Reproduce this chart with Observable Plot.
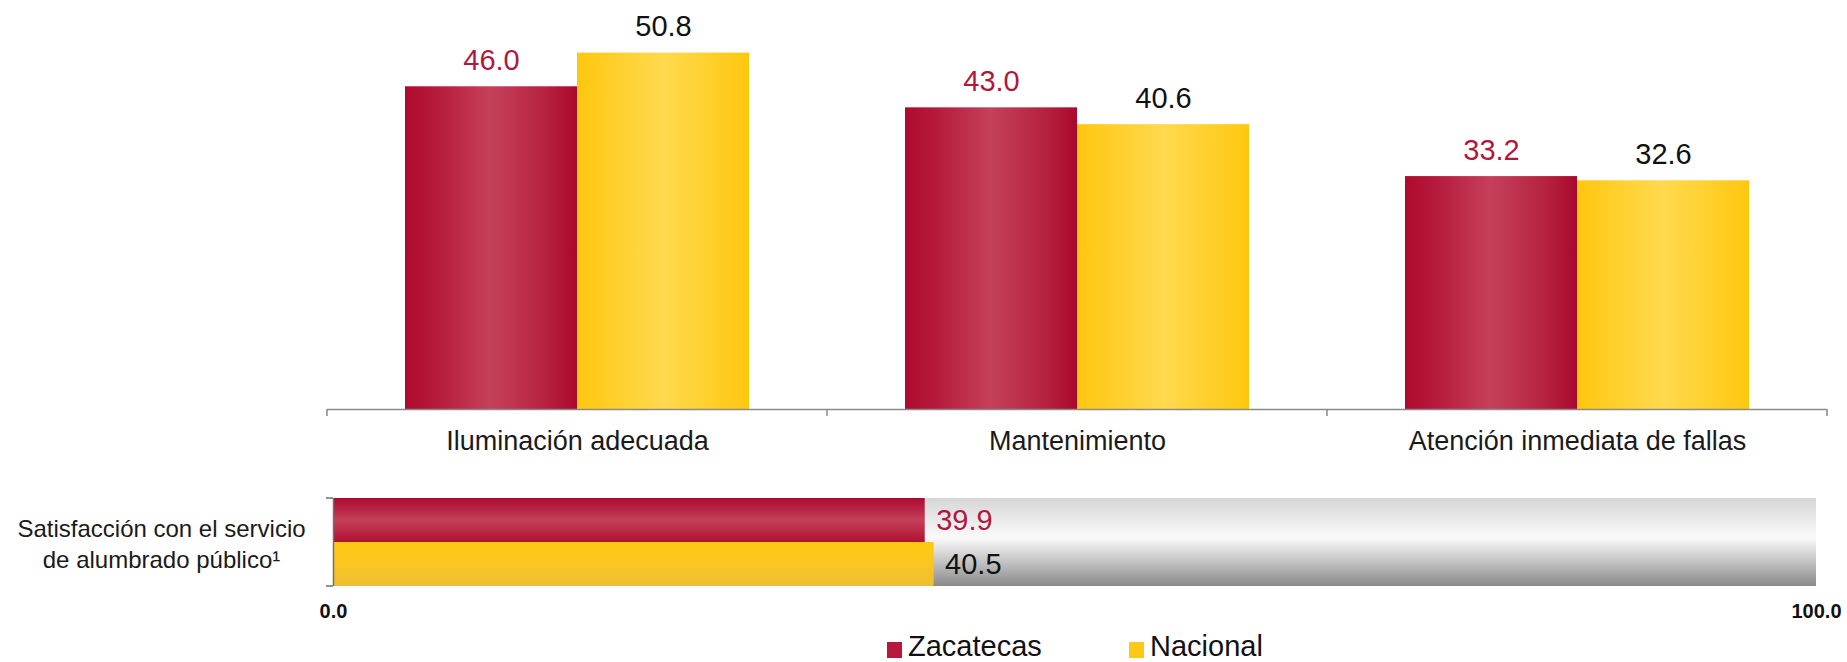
<!DOCTYPE html>
<html><head><meta charset="utf-8">
<script src="https://cdn.jsdelivr.net/npm/d3@7"></script>
<script src="https://cdn.jsdelivr.net/npm/@observablehq/plot@0.6"></script>
<style>
body{margin:0;background:#fff;font-family:"Liberation Sans",Arial,sans-serif;}
#wrap{position:relative;width:1847px;height:662px;overflow:hidden;background:#fff;}
#top{position:absolute;left:0;top:0;}
#bottom{position:absolute;left:0;top:470px;}
.leg{position:absolute;top:633px;font-size:29px;line-height:27px;color:#111;white-space:nowrap;}
.sw{position:absolute;top:642px;width:15px;height:16px;}
</style></head><body>
<div id="wrap"><div id="top"></div><div id="bottom"></div><div id="legend"></div></div>
<script>
// ---- data ----
const categories = ["Iluminación adecuada", "Mantenimiento", "Atención inmediata de fallas"];
const series = ["Zacatecas", "Nacional"];
const zacatecas = [46.0, 43.0, 33.2];
const nacional = [50.8, 40.6, 32.6];
const satisfLabel = "Satisfacción con el servicio\nde alumbrado público¹";
const satisfaccion = [39.9, 40.5]; // Zacatecas, Nacional
const axisTicks = [0, 100];

// ---- styles ----
const legendColors = ["#B8163E", "#FFC815"];
const labelColors = {Zacatecas: "#B0183D", Nacional: "#111111"};
const FONT = "Liberation Sans, Arial, sans-serif";

const rows = categories.flatMap((c, i) => [
  {cat: c, serie: series[0], v: zacatecas[i]},
  {cat: c, serie: series[1], v: nacional[i]}
]);
const bottomRows = series.map((s, i) => ({serie: s, v: satisfaccion[i]}));

// ---- top chart ----
const chart1 = Plot.plot({
  width: 1847, height: 470,
  marginTop: 0, marginBottom: 61, marginLeft: 326, marginRight: 20,
  style: {fontFamily: FONT, background: "transparent"},
  fx: {domain: categories, padding: 0, label: null},
  x: {domain: series, paddingInner: 0, paddingOuter: 0.453, axis: null},
  y: {domain: [0, 58.3], axis: null},
  color: {domain: series, range: ["url(#gZv)", "url(#gNv)"]},
  marks: [
    Plot.barY(rows, {fx: "cat", x: "serie", y: "v", fill: "serie"}),
    Plot.ruleY([0], {stroke: "#8a8a8a", strokeWidth: 1.5}),
    ...series.map(s => Plot.text(rows, {
      filter: d => d.serie === s, fx: "cat", x: "serie", y: "v",
      text: d => d.v.toFixed(1), dy: -17, lineAnchor: "bottom",
      fontSize: 29, fill: labelColors[s]
    })),
    Plot.axisFx({anchor: "bottom", tickSize: 0, tickPadding: 21, fontSize: 27, fill: "#1a1a1a", label: null})
  ]
});
document.getElementById("top").append(chart1);

// ---- bottom chart ----
const chart2 = Plot.plot({
  width: 1847, height: 160,
  marginTop: 28, marginBottom: 44, marginLeft: 333, marginRight: 31,
  style: {fontFamily: FONT, background: "transparent"},
  x: {domain: [0, 100]},
  y: {domain: series, padding: 0, axis: null},
  color: {domain: series, range: ["url(#gZh)", "url(#gNh)"]},
  marks: [
    Plot.barX([axisTicks[1]], {x: d => d, fill: "url(#gGray)"}),
    Plot.barX(bottomRows, {x: "v", y: "serie", fill: "serie"}),
    Plot.ruleX([0], {stroke: "#707070", strokeWidth: 1.5}),
    ...series.map(s => Plot.text(bottomRows, {
      filter: d => d.serie === s, x: "v", y: "serie",
      text: d => d.v.toFixed(1), dx: 11, textAnchor: "start",
      fontSize: 29, fill: labelColors[s]
    })),
    Plot.axisX({ticks: axisTicks, tickFormat: d => d.toFixed(1), tickSize: 0, tickPadding: 17,
      fontSize: 20, fontWeight: "bold", fill: "#111", label: null}),
    Plot.text([satisfLabel], {frameAnchor: "left", dx: -172, textAnchor: "middle",
      fontSize: 24, lineHeight: 1.3, fill: "#1a1a1a"})
  ]
});
document.getElementById("bottom").append(chart2);

// ---- gradients ----
function addGrad(svg, id, vertical, stops) {
  let defs = svg.select("defs");
  if (defs.empty()) defs = svg.insert("defs", ":first-child");
  const g = defs.append("linearGradient").attr("id", id)
    .attr("x1", 0).attr("y1", 0).attr("x2", vertical ? 0 : 1).attr("y2", vertical ? 1 : 0);
  stops.forEach(([o, c]) => g.append("stop").attr("offset", o).attr("stop-color", c));
}
const s1 = d3.select(chart1);
addGrad(s1, "gZv", false, [[0, "#AE0A2E"], [0.18, "#B61A3C"], [0.5, "#C5405B"], [0.82, "#B5213F"], [1, "#AA082C"]]);
addGrad(s1, "gNv", false, [[0, "#FFC70E"], [0.5, "#FFD94F"], [1, "#FFC70E"]]);
const s2 = d3.select(chart2);
addGrad(s2, "gZh", true, [[0, "#AC0A2E"], [0.5, "#C4405A"], [1, "#B0122F"]]);
addGrad(s2, "gNh", true, [[0, "#FFC90F"], [0.45, "#FCC720"], [1, "#ECBE34"]]);
addGrad(s2, "gGray", true, [[0, "#D6D6D6"], [0.45, "#FAFAFA"], [0.7, "#C8C8C8"], [1, "#8A8A8A"]]);

// ---- category boundary ticks (top) ----
const fx = chart1.scale("fx");
const bw = fx.bandwidth ?? (fx.range[1] - fx.range[0]) / categories.length;
const edges = categories.map(c => fx.apply(c)).concat([fx.apply(categories[categories.length - 1]) + bw]);
const y0 = chart1.scale("y").apply(0);
s1.append("g").selectAll("line").data(edges).join("line")
  .attr("x1", d => d).attr("x2", d => d).attr("y1", y0).attr("y2", y0 + 7)
  .attr("stroke", "#8a8a8a").attr("stroke-width", 1.5);

// ---- bracket ticks (bottom) ----
const x0 = chart2.scale("x").apply(0);
const yr = chart2.scale("y").range;
s2.append("g").selectAll("line").data(yr).join("line")
  .attr("x1", x0 - 7).attr("x2", x0).attr("y1", d => d).attr("y2", d => d)
  .attr("stroke", "#707070").attr("stroke-width", 1.5);

// ---- legend ----
const lg = d3.select("#wrap");
const legX = [887, 1129];
series.forEach((s, i) => {
  lg.append("div").attr("class", "sw").style("left", legX[i] + "px").style("background", legendColors[i]);
  lg.append("div").attr("class", "leg").style("left", (legX[i] + 21) + "px").text(s);
});
</script>
</body></html>
